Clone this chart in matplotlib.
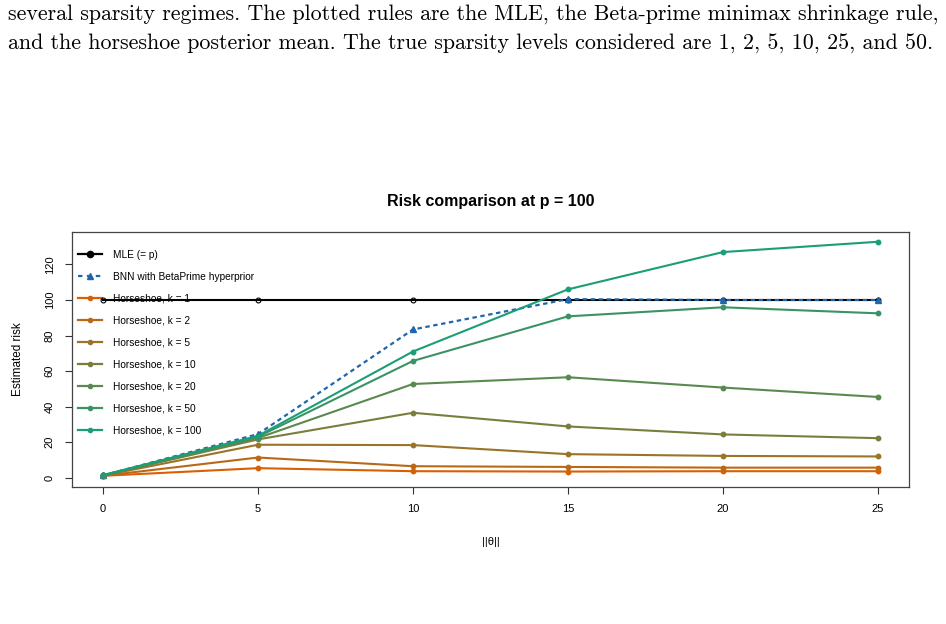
import matplotlib
matplotlib.use("Agg")
import matplotlib.pyplot as plt
from matplotlib.lines import Line2D

# values
theta_norm = [0, 5, 10, 15, 20, 25]
mle = [100, 100, 100, 100, 100, 100]
bnn = [1.2, 24.5, 83.4, 100.5, 100, 100]
hs_k = [1, 2, 5, 10, 20, 50, 100]
hs_risk = [
    [1.0, 5.3, 3.6, 3.4, 3.6, 3.6],
    [1.0, 11.3, 6.4, 6.0, 5.6, 5.6],
    [1.1, 18.5, 18.3, 13.2, 12.2, 11.9],
    [1.2, 21.5, 36.5, 28.8, 24.3, 22.2],
    [1.3, 22.3, 52.7, 56.5, 50.7, 45.4],
    [1.3, 23.0, 65.7, 90.8, 95.9, 92.5],
    [1.4, 23.5, 71.0, 106.0, 127.0, 132.8],
]
hs_colors = ["#D95F02", "#B96916", "#9A7429", "#7A7E3C", "#5A8950", "#3B9363", "#1B9E77"]
bnn_color = "#2166AC"

caption = [
    "several sparsity regimes. The plotted rules are the MLE, the Beta-prime minimax shrinkage rule,",
    "and the horseshoe posterior mean. The true sparsity levels considered are 1, 2, 5, 10, 25, and 50.",
]

plt.rcParams["font.family"] = ["Liberation Sans", "DejaVu Sans"]

fig = plt.figure(figsize=(9.46, 6.24), dpi=100)
ax = fig.add_axes([72 / 946, 1 - 487 / 624, (909 - 72) / 946, (487 - 232) / 624])

# caption from the paper above the figure
for i, line in enumerate(caption):
    fig.text(0.008, 1 - (14 + 30 * i) / 624, line, family="cmr10", fontsize=15.8,
             ha="left", va="center")

ax.plot(theta_norm, mle, color="black", lw=1.5, marker="o", mfc="none", ms=3.5, mew=0.8)
ax.plot(theta_norm, bnn, color=bnn_color, lw=1.6, ls=(0, (2, 1.6)), marker="^", ms=4.5)
for k, r, c in zip(hs_k, hs_risk, hs_colors):
    ax.plot(theta_norm, r, color=c, lw=1.5, marker="o", ms=3.2)

ax.set_xlim(-1, 26)
ax.set_ylim(-5.3, 138.3)
ax.set_xticks([0, 5, 10, 15, 20, 25])
ax.set_yticks([0, 20, 40, 60, 80, 100, 120])
ax.tick_params(direction="out", length=5, width=0.8, labelsize=8, colors="#333333")
ax.tick_params(axis="x", pad=7.5, labelcolor="black")
ax.tick_params(axis="y", pad=7.5, labelcolor="black")
for lab in ax.get_yticklabels():
    lab.set_rotation(90)
    lab.set_va("center")
for s in ax.spines.values():
    s.set_linewidth(0.9)
    s.set_color("#444444")

ax.set_title("Risk comparison at p = 100", fontsize=11.5, fontweight="bold", pad=19)
ax.set_xlabel("||θ||", fontsize=8, labelpad=16)
ax.set_ylabel("Estimated risk", fontsize=8.5, labelpad=15)

handles = [Line2D([], [], color="black", lw=1.6, marker="o", ms=4.5),
           Line2D([], [], color=bnn_color, lw=1.6, ls=(0, (2, 2)), marker="^", ms=4)]
labels = ["MLE (= p)", "BNN with BetaPrime hyperprior"]
for k, c in zip(hs_k, hs_colors):
    handles.append(Line2D([], [], color=c, lw=1.6, marker="o", ms=3))
    labels.append(f"Horseshoe, k = {k}")
leg = ax.legend(handles, labels, loc="upper left", frameon=False, fontsize=7.3,
                labelspacing=1.18, handlelength=2.4, handletextpad=1.0,
                borderaxespad=0.2, bbox_to_anchor=(0.0, 0.954))
leg.set_zorder(1)

fig.savefig("out.png", dpi=100)
